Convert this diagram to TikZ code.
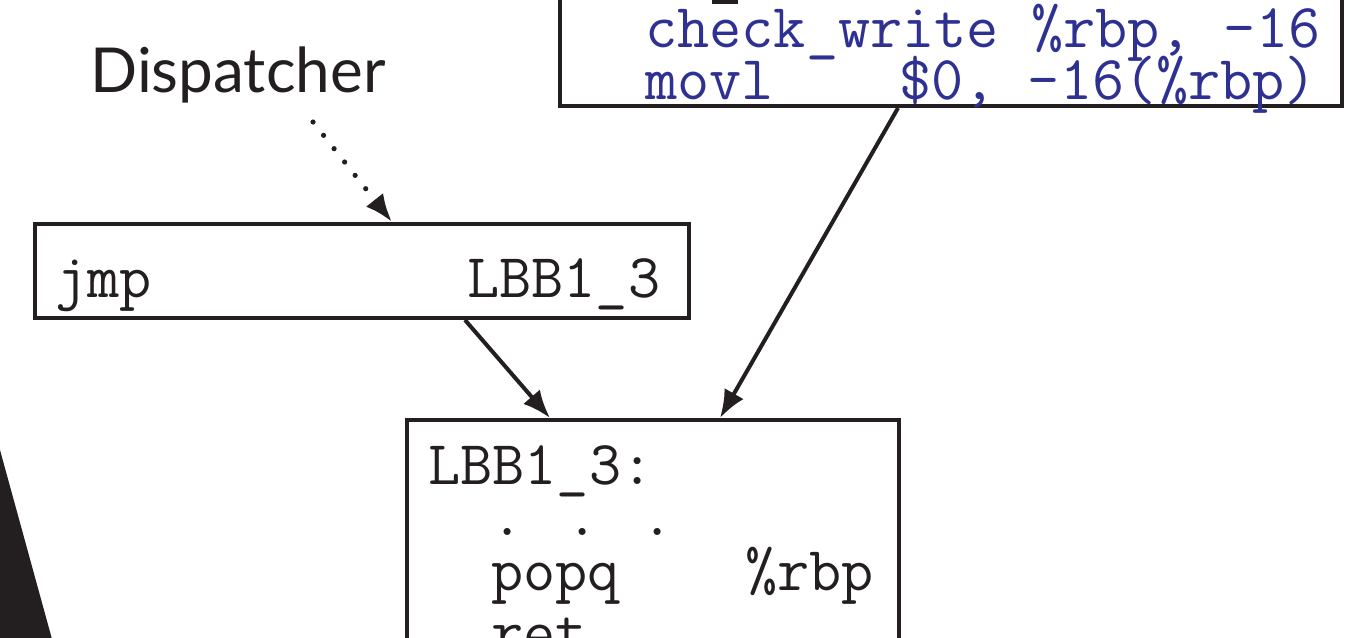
\documentclass[tikz,border=0pt]{standalone}
\usepackage{fontspec}
\setmainfont{Lato}
\usetikzlibrary{arrows.meta}
\definecolor{ink}{RGB}{35,31,32}
\definecolor{asmblue}{RGB}{46,49,146}
\begin{document}
\begin{tikzpicture}[x=0.5pt,y=-0.5pt,
  code/.style={font=\ttfamily\fontsize{31.2}{31.2}\selectfont, inner sep=0pt, anchor=base west, text=ink},
  bluecode/.style={code, text=asmblue},
  label/.style={font=\fontsize{31}{31}\selectfont, inner sep=0pt, anchor=base west, text=ink},
  block/.style={draw=ink, line width=2pt, fill=white, inner sep=0pt, anchor=south west},
  flow/.style={draw=ink, line width=2pt, -{Latex[length=14pt,width=11pt]}},
  jump/.style={flow, line cap=round, dash pattern=on 0pt off 8.5pt, line width=2.6pt}
]
\useasboundingbox (0,0) rectangle (1368,637);
\clip (0,0) rectangle (1368,637);

% dark wedge on the left edge
\fill[ink] (0,450) -- (55,650) -- (0,650) -- cycle;

% basic blocks
\node[block, minimum width=391pt, minimum height=90pt] (chk) at (558,108) {};
\node[block, minimum width=327pt, minimum height=47pt] (jmpb) at (33,320) {};
\node[block, minimum width=246pt, minimum height=150pt, anchor=north west] (tgt) at (405,418) {};

% block contents
\fill[ink] (712,-5) rectangle (738,4);
\node[bluecode] (c1) at (645,47) {check\_write \%rbp, -16};
\node[bluecode] (c2) at (645,99) {movl};
\node[bluecode] (c3) at (899,99) {\$0, -16(\%rbp)};

\node[code] (j1) at (55,297) {jmp};
\node[code] (j2) at (467,297) {LBB1\_3};

\node[code] (t1) at (428,484) {LBB1\_3:};
\node[code] (t2) at (491,535) {. . .};
\node[code] (t3) at (491,590) {popq};
\node[code] (t4) at (745,590) {\%rbp};
\node[code] (t5) at (491,652) {ret};

% dispatcher label
\node[label] (disp) at (90,92) {Dispatcher};

% connectors
\coordinate (dfrom) at (313,122);
\coordinate (dto) at (392,0);
\coordinate (a1) at (465,0);
\coordinate (a2) at (550,0);
\coordinate (b1) at (898,0);
\coordinate (b2) at (720,0);
\draw[jump] (dfrom) -- (jmpb.north -| dto);
\draw[flow] (jmpb.south -| a1) -- (tgt.north -| a2);
\draw[flow] (chk.south -| b1) -- (tgt.north -| b2);
\end{tikzpicture}
\end{document}
